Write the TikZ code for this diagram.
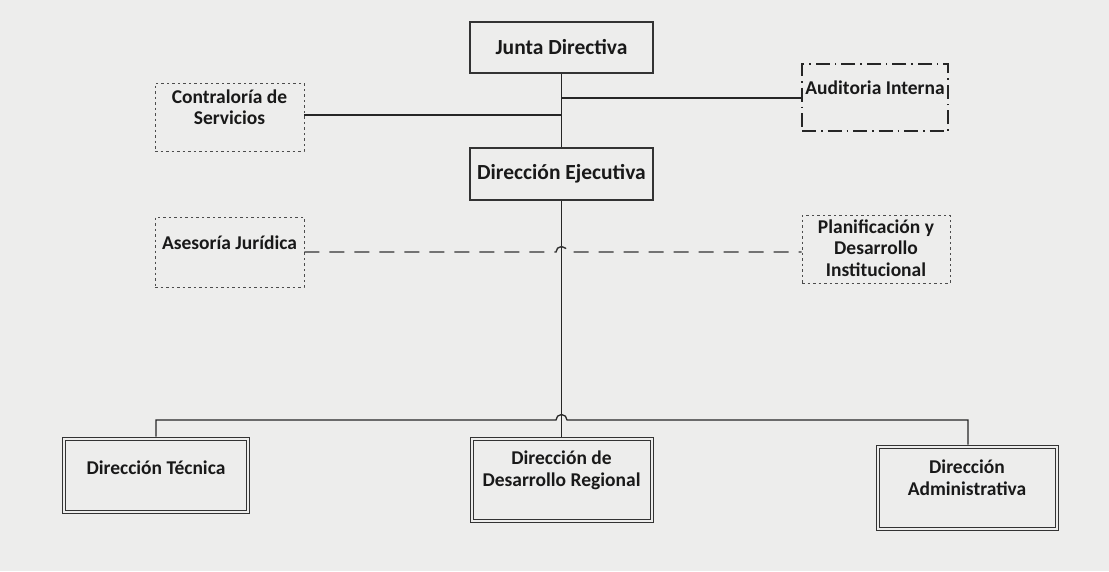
\documentclass[tikz,border=0pt]{standalone}
\usepackage{fontspec}
\setmainfont{Carlito}
\begin{document}
\begin{tikzpicture}[x=1pt,y=-1pt,
  ln/.style={draw=black!85, line width=1.3pt},
  base/.style={font=\bfseries\fontsize{19.5}{21.5}\selectfont, align=center, inner sep=0pt, text=black!90},
  bigfont/.style={font=\bfseries\fontsize{21.5}{24}\selectfont},
  solidbox/.style={base, draw=black!80, line width=1.1pt},
  dotbox/.style={base, draw=black!70, line width=0.9pt, dash pattern=on 2.5pt off 3pt},
  dashdotbox/.style={base, draw=black!85, line width=1.3pt, dash pattern=on 14pt off 5pt on 1.5pt off 5pt},
  dblbox/.style={base, draw=black!80, line width=0.9pt},
  inner/.style={draw=black!80, line width=0.9pt},
  dashline/.style={draw=black!80, line width=1.4pt, dash pattern=on 15pt off 10pt}
]
\definecolor{bgc}{RGB}{237,237,236}
\fill[bgc] (0,0) rectangle (1109,571);
\useasboundingbox (0,0) rectangle (1109,571);

\node[solidbox, bigfont, minimum width=183pt, minimum height=51pt] (jd) at (561.5,47.5) {Junta Directiva};
\node[solidbox, bigfont, minimum width=183pt, minimum height=52pt] (de) at (561.5,174) {Dirección Ejecutiva};
\node[dotbox, minimum width=149pt, minimum height=68pt, text depth=20pt] (cs) at (229.5,117) {Contraloría de\\Servicios};
\node[dashdotbox, minimum width=146pt, minimum height=67pt, text depth=20pt] (ai) at (875,97.5) {Auditoria Interna};
\node[dotbox, minimum width=149pt, minimum height=70pt, text depth=18pt] (aj) at (229.5,252) {Asesoría Jurídica};
\node[dotbox, minimum width=148pt, minimum height=68pt, text depth=2pt] (pd) at (876,249) {Planificación y\\Desarrollo\\Institucional};
\node[dblbox, minimum width=187pt, minimum height=76pt, text depth=14pt] (dt) at (156,475) {Dirección Técnica};
\node[dblbox, minimum width=183pt, minimum height=85pt, text depth=22pt] (dr) at (561.5,479.5) {Dirección de\\Desarrollo Regional};
\node[dblbox, minimum width=182pt, minimum height=85pt, text depth=20pt] (da) at (967,487.5) {Dirección\\Administrativa};
\foreach \b in {dt,dr,da}
  \draw[inner] ([shift={(3.5pt,-3.5pt)}]\b.north west) rectangle ([shift={(-3.5pt,3.5pt)}]\b.south east);

\coordinate (j1) at (561.5,98);
\coordinate (j2) at (561.5,115);
\coordinate (hL) at (556,252);
\coordinate (bL) at (556,420);
\coordinate (bT) at (156,420);
\coordinate (bA) at (968,420);

\draw[ln] (jd.south) -- (de.north);
\draw[ln] (j1) -- (j1 -| ai.west);
\draw[ln] (cs.east |- j2) -- (j2);
\draw[ln] (de.south) -- (dr.north);
\draw[dashline] (aj.east |- hL) -- (hL) arc[start angle=180,end angle=0,radius=5.5pt] -- (pd.west |- hL);
\draw[ln] (dt.north -| bT) -- (bT) -- (bL) arc[start angle=180,end angle=0,radius=5.5pt] -- (bA) -- (da.north -| bA);
\end{tikzpicture}
\end{document}
